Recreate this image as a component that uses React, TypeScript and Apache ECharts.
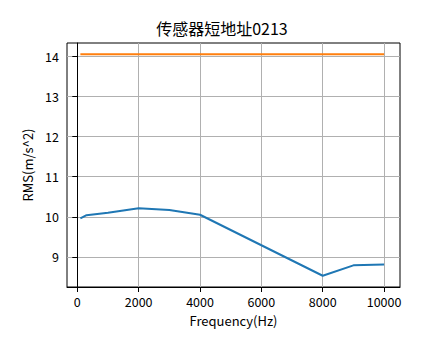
import React, { useEffect, useRef } from "react";
import * as echarts from "echarts";

const titleText = "传感器短地址0213";
const xName = "Frequency(Hz)";
const yName = "RMS(m/s^2)";
const frequencies = [100, 300, 1000, 2000, 3000, 4000, 8000, 9000, 10000];
const rmsValues = [9.96, 10.04, 10.1, 10.21, 10.17, 10.05, 8.53, 8.79, 8.81];
const limitFreq = [100, 10000];
const limitValues = [14.05, 14.05];
const xTicks = [0, 2000, 4000, 6000, 8000, 10000];
const yTicks = [9, 10, 11, 12, 13, 14];

const FONT = "Noto Sans CJK SC";

export default function App() {
  const ref = useRef<HTMLDivElement>(null);
  useEffect(() => {
    document.body.style.margin = "0";
    const chart = echarts.init(ref.current!, null, { renderer: "svg" });
    const axisCommon = {
      axisLine: { show: true, lineStyle: { color: "#000", width: 1 } },
      axisTick: { show: true, inside: false, length: 5, lineStyle: { color: "#000", width: 1 } },
      splitLine: { show: true, lineStyle: { color: "#b0b0b0", width: 1 } },
    };
    chart.setOption({
      animation: false,
      backgroundColor: "#fff",
      title: {
        text: titleText,
        left: "center",
        top: 15,
        textStyle: { fontFamily: FONT, fontSize: 16, fontWeight: "normal", color: "#000" },
      },
      grid: {
        left: 67,
        right: 44,
        top: 43,
        bottom: 72,
        show: true,
        borderColor: "#000",
        borderWidth: 1,
        containLabel: false,
      },
      xAxis: {
        type: "value",
        min: -336,
        max: 10519,
        name: xName,
        nameLocation: "middle",
        nameGap: 27,
        nameTextStyle: { fontFamily: FONT, fontSize: 13, color: "#000" },
        ...axisCommon,
        axisTick: { ...axisCommon.axisTick, customValues: xTicks },
        axisLabel: {
          customValues: xTicks,
          formatter: (v: number) => String(v),
          margin: 8,
          fontFamily: FONT,
          fontSize: 12.5,
          color: "#000",
        },
      },
      yAxis: {
        type: "value",
        min: 8.25,
        max: 14.33,
        name: yName,
        nameLocation: "middle",
        nameGap: 30,
        nameTextStyle: { fontFamily: FONT, fontSize: 13, color: "#000" },
        ...axisCommon,
        axisTick: { ...axisCommon.axisTick, customValues: yTicks },
        axisLabel: {
          customValues: yTicks,
          formatter: (v: number) => String(v),
          margin: 8,
          fontFamily: FONT,
          fontSize: 12.5,
          color: "#000",
        },
      },
      series: [
        {
          type: "line",
          data: frequencies.map((f, i) => [f, rmsValues[i]]),
          showSymbol: false,
          lineStyle: { color: "#1f77b4", width: 2 },
          itemStyle: { color: "#1f77b4" },
        },
        {
          type: "line",
          data: limitFreq.map((f, i) => [f, limitValues[i]]),
          showSymbol: false,
          lineStyle: { color: "#ff7f0e", width: 2 },
          itemStyle: { color: "#ff7f0e" },
        },
      ],
    });
    return () => chart.dispose();
  }, []);
  return <div ref={ref} style={{ width: 444, height: 359 }} />;
}
